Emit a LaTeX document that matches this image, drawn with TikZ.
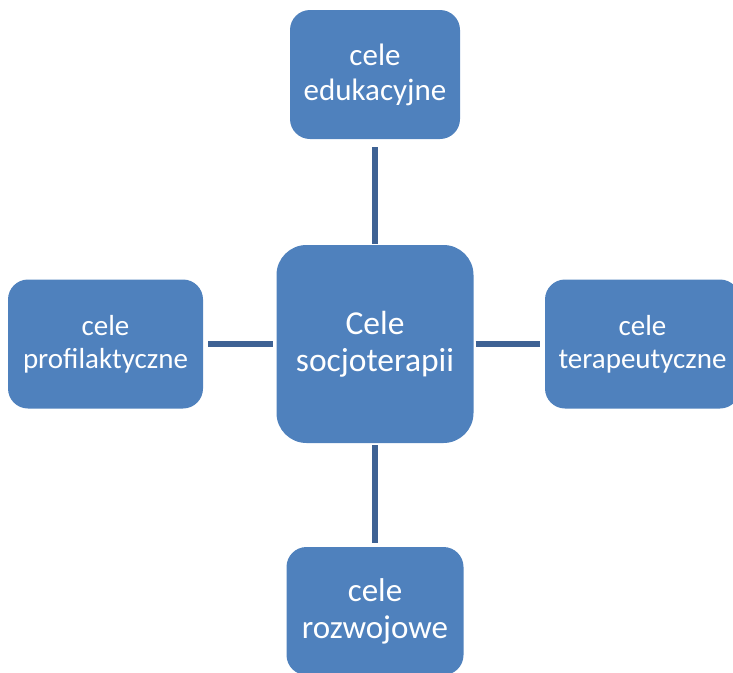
\documentclass[tikz,border=0pt]{standalone}
\usepackage{fontspec}
\setmainfont{Carlito}
\definecolor{boxblue}{HTML}{4F81BD}
\definecolor{linkblue}{RGB}{62,98,148}
\begin{document}
\begin{tikzpicture}[x=1pt,y=1pt,
  goalbox/.style={rectangle, fill=boxblue, text=white, align=center, inner sep=0pt, rounded corners=20pt},
  link/.style={draw=linkblue, line width=6pt}]
\useasboundingbox (0,0) rectangle (733,-672);
\begin{scope}
\clip (0,0) rectangle (733,-672);
\node[goalbox, minimum width=197pt, minimum height=198pt, rounded corners=30pt,
  font=\fontsize{33.5}{37}\selectfont] (center) at (375,-344) {Cele\\socjoterapii};
\node[goalbox, minimum width=170pt, minimum height=129pt,
  font=\fontsize{31}{35}\selectfont] (top) at (375,-74.5) {cele\\edukacyjne};
\node[goalbox, minimum width=195pt, minimum height=129pt,
  font=\fontsize{29}{33}\selectfont] (left) at (105.5,-344) {cele\\profilaktyczne};
\node[goalbox, minimum width=195pt, minimum height=129pt,
  font=\fontsize{29}{33}\selectfont] (right) at (642.5,-344) {cele\\terapeutyczne};
\node[goalbox, minimum width=177pt, minimum height=128pt,
  font=\fontsize{33}{37}\selectfont] (bottom) at (375,-611) {cele\\rozwojowe};
\end{scope}
\draw[link, shorten <=8pt, shorten >=1pt] (top.south) -- (center.north);
\draw[link, shorten <=2pt, shorten >=4pt] (center.south) -- (bottom.north);
\draw[link, shorten <=5pt, shorten >=3pt] (left.east) -- (center.west);
\draw[link, shorten <=2pt, shorten >=5pt] (center.east) -- (right.west);
\end{tikzpicture}
\end{document}
